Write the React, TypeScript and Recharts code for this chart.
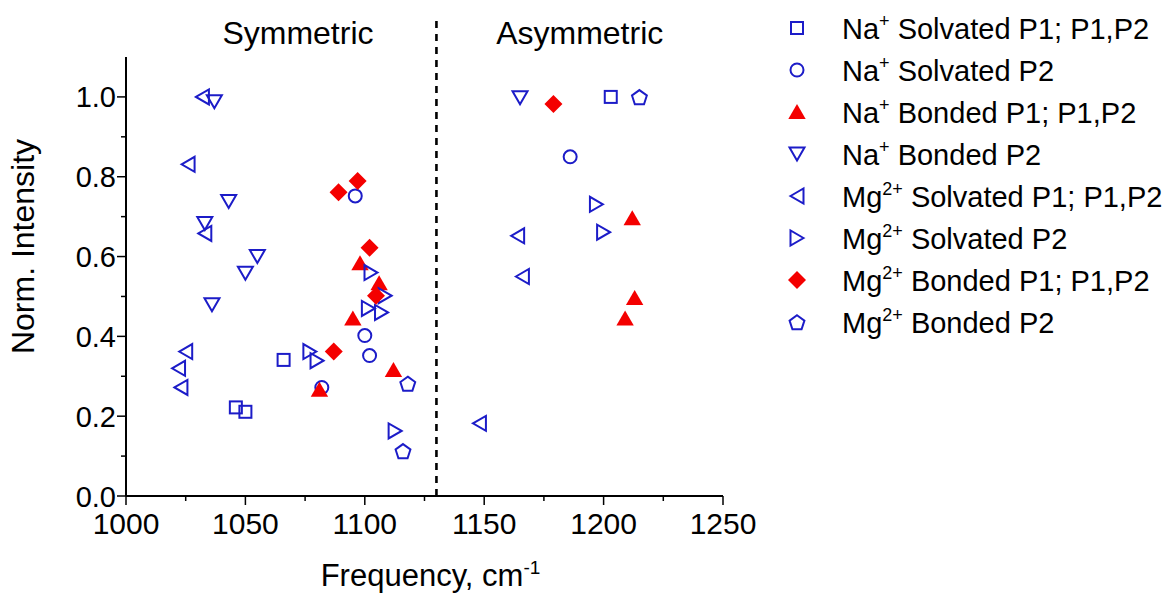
import React from 'react';
import {
  ScatterChart,
  Scatter,
  XAxis,
  YAxis,
  ReferenceLine,
  ReferenceDot,
  Legend,
} from 'recharts';

const BLUE = '#1c1cc8';
const RED = '#f40000';
const FONT = '"Liberation Sans", Arial, Helvetica, sans-serif';

// frequency (cm-1) vs normalised intensity
const naSolvatedP1 = [
  { freq: 1046, intensity: 0.222 },
  { freq: 1050, intensity: 0.211 },
  { freq: 1066, intensity: 0.341 },
  { freq: 1203, intensity: 1.0 },
];
const naSolvatedP2 = [
  { freq: 1082, intensity: 0.272 },
  { freq: 1096, intensity: 0.752 },
  { freq: 1100, intensity: 0.402 },
  { freq: 1102, intensity: 0.352 },
  { freq: 1186, intensity: 0.85 },
];
const naBondedP1 = [
  { freq: 1081, intensity: 0.266 },
  { freq: 1095, intensity: 0.445 },
  { freq: 1098, intensity: 0.583 },
  { freq: 1106, intensity: 0.533 },
  { freq: 1112, intensity: 0.316 },
  { freq: 1209, intensity: 0.445 },
  { freq: 1212, intensity: 0.696 },
  { freq: 1213, intensity: 0.496 },
];
const naBondedP2 = [
  { freq: 1033, intensity: 0.683 },
  { freq: 1036, intensity: 0.479 },
  { freq: 1037, intensity: 0.988 },
  { freq: 1043, intensity: 0.738 },
  { freq: 1050, intensity: 0.558 },
  { freq: 1055, intensity: 0.6 },
  { freq: 1165, intensity: 0.998 },
];
const mgSolvatedP1 = [
  { freq: 1032, intensity: 1.0 },
  { freq: 1026, intensity: 0.831 },
  { freq: 1033, intensity: 0.658 },
  { freq: 1025, intensity: 0.362 },
  { freq: 1022, intensity: 0.32 },
  { freq: 1023, intensity: 0.272 },
  { freq: 1148, intensity: 0.182 },
  { freq: 1164, intensity: 0.652 },
  { freq: 1166, intensity: 0.55 },
];
const mgSolvatedP2 = [
  { freq: 1077, intensity: 0.362 },
  { freq: 1080, intensity: 0.339 },
  { freq: 1101.5, intensity: 0.47 },
  { freq: 1102.6, intensity: 0.56 },
  { freq: 1107, intensity: 0.46 },
  { freq: 1108.5, intensity: 0.502 },
  { freq: 1112.7, intensity: 0.163 },
  { freq: 1197, intensity: 0.731 },
  { freq: 1200, intensity: 0.661 },
];
const mgBondedP1 = [
  { freq: 1087, intensity: 0.362 },
  { freq: 1089, intensity: 0.761 },
  { freq: 1097, intensity: 0.789 },
  { freq: 1102, intensity: 0.622 },
  { freq: 1104.7, intensity: 0.502 },
  { freq: 1179, intensity: 0.982 },
];
const mgBondedP2 = [
  { freq: 1116, intensity: 0.113 },
  { freq: 1118, intensity: 0.282 },
  { freq: 1215, intensity: 1.0 },
];

const seriesData = [
  naSolvatedP1,
  naSolvatedP2,
  naBondedP1,
  naBondedP2,
  mgSolvatedP1,
  mgSolvatedP2,
  mgBondedP1,
  mgBondedP2,
];
const seriesIons = ['Na', 'Na', 'Na', 'Na', 'Mg', 'Mg', 'Mg', 'Mg'];
const seriesCharges = ['+', '+', '+', '+', '2+', '2+', '2+', '2+'];
const seriesLabels = [
  'Solvated P1; P1,P2',
  'Solvated P2',
  'Bonded P1; P1,P2',
  'Bonded P2',
  'Solvated P1; P1,P2',
  'Solvated P2',
  'Bonded P1; P1,P2',
  'Bonded P2',
];
const seriesShapes = ['square', 'circle', 'up', 'down', 'left', 'right', 'diamond', 'pentagon'];

const xTicks = [1000, 1025, 1050, 1075, 1100, 1125, 1150, 1175, 1200, 1225, 1250];
const yTicks = [0, 0.1, 0.2, 0.3, 0.4, 0.5, 0.6, 0.7, 0.8, 0.9, 1.0];

const regionSplit = 1130;
const regionLabels = [
  { text: 'Symmetric', freq: 1072, intensity: 1.162 },
  { text: 'Asymmetric', freq: 1190, intensity: 1.162 },
];

const pts = (arr: number[][]) => arr.map((p) => p.join(',')).join(' ');

function Marker({ kind, cx, cy }: { kind: string; cx: number; cy: number }) {
  const line = { fill: 'none', stroke: BLUE, strokeWidth: 2 };
  switch (kind) {
    case 'square':
      return <rect x={cx - 6} y={cy - 6} width={12} height={12} {...line} />;
    case 'circle':
      return <circle cx={cx} cy={cy} r={6.5} {...line} />;
    case 'up':
      return <polygon points={pts([[cx, cy - 8], [cx + 8.7, cy + 7], [cx - 8.7, cy + 7]])} fill={RED} />;
    case 'down':
      return <polygon points={pts([[cx - 7.5, cy - 6.5], [cx + 7.5, cy - 6.5], [cx, cy + 6.5]])} {...line} />;
    case 'left':
      return <polygon points={pts([[cx - 6.5, cy], [cx + 6.5, cy - 7.5], [cx + 6.5, cy + 7.5]])} {...line} />;
    case 'right':
      return <polygon points={pts([[cx + 6.5, cy], [cx - 6.5, cy - 7.5], [cx - 6.5, cy + 7.5]])} {...line} />;
    case 'diamond':
      return <polygon points={pts([[cx, cy - 9], [cx + 9, cy], [cx, cy + 9], [cx - 9, cy]])} fill={RED} />;
    default: {
      const p = [0, 1, 2, 3, 4].map((i) => {
        const a = -Math.PI / 2 + (i * 2 * Math.PI) / 5;
        return [cx + 7.8 * Math.cos(a), cy + 1 + 7.8 * Math.sin(a)];
      });
      return <polygon points={pts(p)} {...line} strokeLinejoin="miter" />;
    }
  }
}

const XTick = ({ x, y, payload }: any) => {
  const major = payload.value % 50 === 0;
  return (
    <g>
      <line x1={x} y1={y} x2={x} y2={y + (major ? 9 : 5)} stroke="#000" strokeWidth={1.5} />
      {major && (
        <text x={x} y={y + 38} textAnchor="middle" fontSize={30} fontFamily={FONT} fill="#000">
          {payload.value}
        </text>
      )}
    </g>
  );
};

const YTick = ({ x, y, payload }: any) => {
  const major = Math.round(payload.value * 10) % 2 === 0;
  return (
    <g>
      <line x1={x} y1={y} x2={x - (major ? 9 : 5)} y2={y} stroke="#000" strokeWidth={1.5} />
      {major && (
        <text x={x - 10} y={y + 10.5} textAnchor="end" fontSize={29} fontFamily={FONT} fill="#000">
          {payload.value.toFixed(1)}
        </text>
      )}
    </g>
  );
};

const XTitle = ({ viewBox }: any) => (
  <text
    x={viewBox.x + viewBox.width / 2 + 6}
    y={viewBox.y + 90}
    textAnchor="middle"
    fontSize={31}
    fontFamily={FONT}
    fill="#000"
  >
    Frequency, cm
    <tspan dy={-12} fontSize={19}>
      -1
    </tspan>
  </text>
);

const YTitle = ({ viewBox }: any) => {
  const px = viewBox.x - 12;
  const py = viewBox.y + viewBox.height / 2 - 30;
  return (
    <text
      x={px}
      y={py}
      transform={`rotate(-90, ${px}, ${py})`}
      textAnchor="middle"
      fontSize={32}
      fontFamily={FONT}
      fill="#000"
    >
      Norm. Intensity
    </text>
  );
};

const LegendBox = () => (
  <svg width={390} height={345}>
    {seriesLabels.map((label, i) => {
      const cy = 28 + i * 42;
      return (
        <g key={i}>
          <Marker kind={seriesShapes[i]} cx={17} cy={cy} />
          <text x={62} y={cy + 10.5} fontSize={29} fontFamily={FONT} fill="#000">
            {seriesIons[i]}
            <tspan dy={-12} fontSize={18}>
              {seriesCharges[i]}
            </tspan>
            <tspan dy={12}>{' ' + label}</tspan>
          </text>
        </g>
      );
    })}
  </svg>
);

export default function App() {
  return (
    <div style={{ position: 'absolute', left: 0, top: 0, background: '#fff' }}>
      <ScatterChart width={1170} height={594} margin={{ top: 57, right: 57, bottom: 0, left: 46 }}>
        <XAxis
          type="number"
          dataKey="freq"
          domain={[1000, 1250]}
          ticks={xTicks}
          interval={0}
          tickLine={false}
          tickSize={0}
          tickMargin={0}
          tick={<XTick />}
          axisLine={{ stroke: '#000', strokeWidth: 2 }}
          height={98}
          label={<XTitle />}
        />
        <YAxis
          type="number"
          dataKey="intensity"
          domain={[0, 1.1]}
          ticks={yTicks}
          interval={0}
          tickLine={false}
          tickSize={0}
          tickMargin={0}
          tick={<YTick />}
          axisLine={{ stroke: '#000', strokeWidth: 2 }}
          width={80}
          label={<YTitle />}
        />
        <ReferenceLine
          segment={[
            { x: regionSplit, y: 0 },
            { x: regionSplit, y: 1.19 },
          ]}
          stroke="#000"
          strokeWidth={2.6}
          strokeDasharray="7 6"
          ifOverflow="visible"
        />
        {regionLabels.map((r) => (
          <ReferenceDot
            key={r.text}
            x={r.freq}
            y={r.intensity}
            r={0}
            ifOverflow="visible"
            label={{ value: r.text, position: 'center', fontSize: 32, fill: '#000', fontFamily: FONT }}
          />
        ))}
        {seriesData.map((d, i) => (
          <Scatter
            key={i}
            name={seriesIons[i] + seriesCharges[i] + ' ' + seriesLabels[i]}
            data={d}
            isAnimationActive={false}
            shape={(p: any) => <Marker kind={seriesShapes[i]} cx={p.cx} cy={p.cy} />}
          />
        ))}
        <Legend
          layout="vertical"
          align="right"
          verticalAlign="top"
          wrapperStyle={{ top: 0, right: 0, width: 390 }}
          content={<LegendBox />}
        />
      </ScatterChart>
    </div>
  );
}
